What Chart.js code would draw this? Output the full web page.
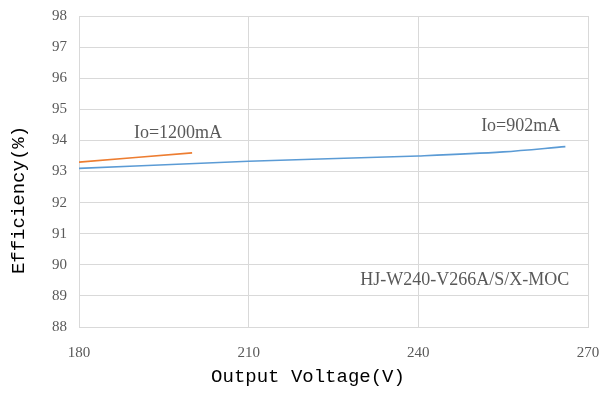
<!DOCTYPE html>
<html><head><meta charset="utf-8">
<script src="https://cdn.jsdelivr.net/npm/chart.js@4/dist/chart.umd.min.js"></script>
<style>html,body{margin:0;padding:0;background:#fff}#wrap{width:603px;height:393px}</style>
</head><body><div id="wrap"><canvas id="c"></canvas></div>
<script>
const voltage1200 = [180, 200];
const eff1200 = [93.3, 93.6];
const voltage902 = [180, 210, 240, 255, 266];
const eff902 = [93.1, 93.33, 93.5, 93.63, 93.8];
const seriesNames = ["Io=1200mA", "Io=902mA"];
const xTicks = [180, 210, 240, 270];
const yTicks = [88, 89, 90, 91, 92, 93, 94, 95, 96, 97, 98];
const xTitle = "Output Voltage(V)";
const yTitle = "Efficiency(%)";
const notes = [
  {text: "Io=1200mA", x: 197.5, y: 94.24},
  {text: "Io=902mA", x: 258.1, y: 94.46},
  {text: "HJ-W240-V266A/S/X-MOC", x: 248.2, y: 89.5}
];

const notePlugin = {
  id: 'notes',
  afterDatasetsDraw(chart) {
    const {ctx, scales: {x, y}} = chart;
    ctx.save();
    ctx.font = '18px "Liberation Serif", serif';
    ctx.fillStyle = '#595959';
    ctx.textAlign = 'center';
    ctx.textBaseline = 'middle';
    notes.forEach(n => {
      ctx.fillText(n.text, x.getPixelForValue(n.x), y.getPixelForValue(n.y));
    });
    ctx.restore();
  },
  afterDraw(chart) {
    const ctx = chart.ctx;
    ctx.save();
    ctx.font = '19px "Liberation Mono", monospace';
    ctx.fillStyle = '#000';
    ctx.textAlign = 'center';
    ctx.textBaseline = 'middle';
    ctx.fillText(xTitle, 308, 377);
    ctx.translate(19, 200);
    ctx.rotate(-Math.PI / 2);
    ctx.fillText(yTitle, 0, 0);
    ctx.restore();
  }
};

new Chart(document.getElementById('c'), {
  type: 'line',
  data: {
    datasets: [
      {label: seriesNames[0], data: voltage1200.map((v, i) => ({x: v, y: eff1200[i]})),
       borderColor: '#ED7D31', borderWidth: 1.6, pointRadius: 0, tension: 0.3, fill: false},
      {label: seriesNames[1], data: voltage902.map((v, i) => ({x: v, y: eff902[i]})),
       borderColor: '#5B9BD5', borderWidth: 1.6, pointRadius: 0, cubicInterpolationMode: 'monotone', fill: false}
    ]
  },
  options: {
    responsive: true, maintainAspectRatio: false, animation: false,
    layout: {padding: {left: 0, right: 15, top: 16, bottom: 0}},
    plugins: {legend: {display: false}, tooltip: {enabled: false}},
    scales: {
      x: {
        type: 'linear', min: 180, max: 270,
        afterBuildTicks: s => { s.ticks = xTicks.map(v => ({value: v})); },
        afterFit: s => { s.height = 66; s.paddingLeft = 0; s.paddingRight = 0; },
        grid: {color: '#d9d9d9', drawTicks: false, lineWidth: 1},
        border: {color: '#d9d9d9'},
        ticks: {color: '#595959', padding: 17, font: {family: '"Liberation Serif", serif', size: 15}},
        title: {display: false}
      },
      y: {
        min: 88, max: 98,
        afterBuildTicks: s => { s.ticks = yTicks.map(v => ({value: v})); },
        afterFit: s => { s.width = 79; s.paddingTop = 0; s.paddingBottom = 0; },
        grid: {color: '#d9d9d9', drawTicks: false, lineWidth: 1},
        border: {color: '#d9d9d9'},
        ticks: {color: '#595959', padding: 12, font: {family: '"Liberation Serif", serif', size: 15}},
        title: {display: false}
      }
    }
  },
  plugins: [notePlugin]
});
</script></body></html>
